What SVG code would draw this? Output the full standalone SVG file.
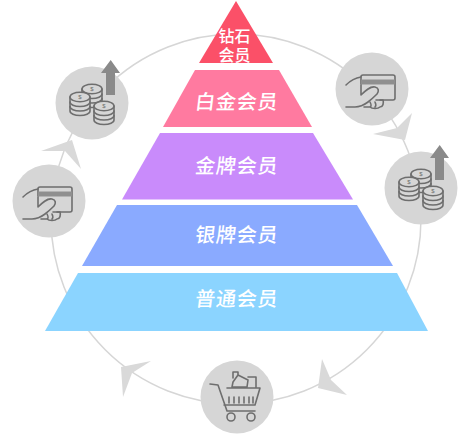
<svg xmlns="http://www.w3.org/2000/svg" width="470" height="435" viewBox="0 0 470 435">
<style>
.bg{fill:#d6d6d6}
.ring{fill:none;stroke:#d6d6d6;stroke-width:1.500}
.arr{fill:#d9d9d9}
.ic{fill:none;stroke:#6e6e6e;stroke-width:1.600;stroke-linejoin:round;stroke-linecap:round}
.fl{fill:#d6d6d6}
.up{fill:#8a8a8a}
.d{fill:#6e6e6e;font-family:"Liberation Sans",sans-serif;font-size:6px;text-anchor:middle}
.t{fill:#fff;font-family:"Noto Sans CJK SC","Liberation Sans",sans-serif;font-weight:500;text-anchor:middle}
.l{font-size:20px;letter-spacing:.8px}
.s{font-size:16px}
</style>
<defs>
<g id="coin">
<path class="ic fl" d="M-10 0v14c0 2.500 4.500 4.500 10 4.500s10-2 10-4.500V0Z"/>
<path class="ic" d="M-10 5c0 2.500 4.500 4.500 10 4.500S10 7.500 10 5M-10 9.500c0 2.500 4.500 4.500 10 4.500S10 12 10 9.500"/>
<ellipse class="ic fl" cx="0" cy="0" rx="10" ry="4.800"/>
<text class="d" x="0" y="2">$</text>
</g>
<g id="money">
<path class="up" d="M18.700 -43L28 -30H23V-8H14V-30H9Z"/>
<use href="#coin" x="0" y="-14"/>
<use href="#coin" x="-12" y="-6"/>
<use href="#coin" x="12" y="3"/>
</g>
<g id="hand">
<path class="ic" d="M-11 -5V-12Q-11 -14 -9 -14H21Q23 -14 23 -12V9Q23 11 21 11H8"/>
<path d="M-11 -9.500H23V-4.500H-11Z" fill="#8f8f8f"/>
<path class="ic" d="M-26 -4C-22 -8-18 -11-11 -12M-11 -4V6C-7 2-2 -3 3 -2C7 -1 7 2 5 5C2 8 0 10-4 13C-8 16-12 18-17 18H-26"/>
<path class="ic" d="M-8 18H-2C0 20 6 20 8 18C11 18 12 14 11 11H4M-2 13C-1 15 0 17-2 18M3 13C4 15 4 17 3 18"/>
</g>
</defs>
<g id="connectors">
<circle class="ring" cx="236" cy="219" r="185"/>
<path class="arr" d="M72 140L41 151L65 151L81 169Z"/>
<path class="arr" d="M405 140L412 113L397 128L373 134Z"/>
<path class="arr" d="M121 367L151 361L132 373L123 397Z"/>
<path class="arr" d="M318 388L322 359L331 380L347 395Z"/>
</g>
<g id="node-hand-left">
<circle class="bg" cx="49" cy="201" r="36.500"/>
<use href="#hand" x="49" y="201"/>
</g>
<g id="node-money-left">
<circle class="bg" cx="92" cy="103" r="36.500"/>
<use href="#money" x="92" y="103"/>
</g>
<g id="node-hand-right">
<circle class="bg" cx="372" cy="89" r="36.500"/>
<use href="#hand" x="372" y="89"/>
</g>
<g id="node-money-right">
<circle class="bg" cx="421" cy="188" r="36.500"/>
<use href="#money" x="421" y="188"/>
</g>
<g id="node-cart">
<circle class="bg" cx="237" cy="397" r="36.500"/>
<path class="ic" d="M210 384L218 385L227 411H255M227 388H260L255 405H224M233 378V372H238V375M238 375L248 380L247 387H232L233 382ZM248 377H256V387"/>
<path class="ic" stroke-width="2" d="M229 397V403M234 397V403M239 397V403M244 397V403M249 397V403M253 397V403"/>
<circle class="ic" cx="231" cy="417" r="4"/>
<circle class="ic" cx="251" cy="417" r="4"/>
</g>
<g id="node-diamond">
<path d="M236 1L273 63H199Z" fill="#fb5068"/>
<text class="t s" x="234.500" y="41.500">钻石<tspan x="234.500" dy="19">会员</tspan></text>
</g>
<g id="node-platinum">
<path d="M195 70H279L312 127H163Z" fill="#ff7aa0"/>
<text class="t l" transform="translate(236 109) skewX(-7)">白金会员</text>
</g>
<g id="node-gold">
<path d="M160 133H313L353 199.500H122Z" fill="#c98bfb"/>
<text class="t l" transform="translate(236 173) skewX(-7)">金牌会员</text>
</g>
<g id="node-silver">
<path d="M117 205H357L393 266H82Z" fill="#8aaaff"/>
<text class="t l" transform="translate(236 242) skewX(-7)">银牌会员</text>
</g>
<g id="node-regular">
<path d="M78 273H397L428 331H45Z" fill="#8bd4ff"/>
<text class="t l" transform="translate(236 306) skewX(-7)">普通会员</text>
</g>
</svg>
